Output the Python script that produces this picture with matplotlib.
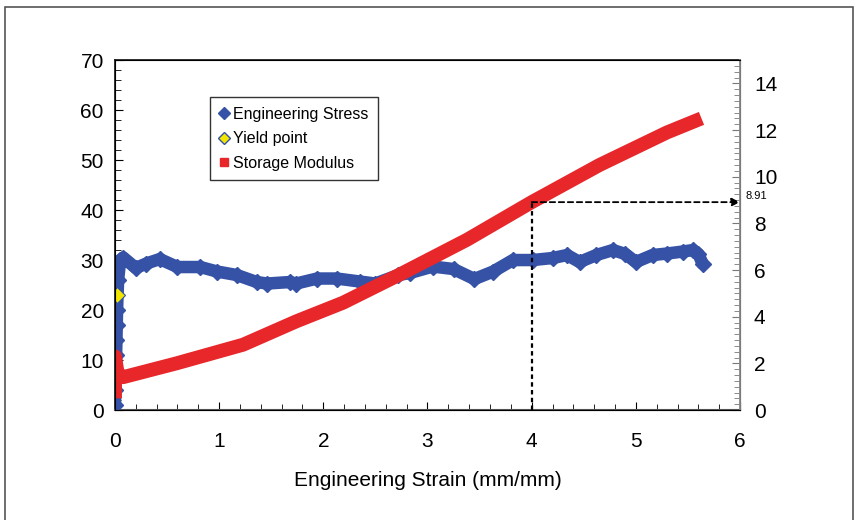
import matplotlib
matplotlib.use("Agg")
import matplotlib.pyplot as plt
from matplotlib.ticker import MultipleLocator
from matplotlib.lines import Line2D
from matplotlib.patches import Rectangle

plt.rcParams['font.family'] = ['Liberation Sans', 'DejaVu Sans']

# datos
strain_stress = [0.0, 0.004, 0.008, 0.011, 0.014, 0.017, 0.02, 0.03, 0.05, 0.08, 0.2,
                 0.3, 0.43, 0.6, 0.82, 0.98, 1.17, 1.36, 1.46, 1.68, 1.74, 1.94,
                 2.13, 2.35, 2.5, 2.72, 2.83, 3.05, 3.25, 3.45, 3.63, 3.82, 4.01,
                 4.2, 4.34, 4.46, 4.62, 4.78, 4.9, 5.0, 5.16, 5.3, 5.45, 5.55, 5.6, 5.64]
stress = [1, 4, 8, 11, 14, 17, 20, 26, 30, 30.5, 28.4,
          29.3, 30.2, 28.6, 28.6, 27.7, 27.0, 25.6, 25.3, 25.6, 25.3, 26.3,
          26.3, 25.7, 25.3, 27.0, 27.4, 28.7, 28.2, 26.2, 27.7, 30.0, 30.0,
          30.4, 31.0, 29.6, 31.0, 32.0, 31.2, 29.6, 31.0, 31.3, 31.7, 32.0, 31.2, 29.3]

yield_x = [0.02]
yield_y = [23]

strain_mod = [0.0, 0.0, 0.03, 0.08, 0.59, 1.23, 1.74, 2.19, 2.73, 3.38, 4.0,
              4.65, 5.3, 5.63]
modulus = [0.5, 2.3, 1.45, 1.41, 2.0, 2.8, 3.8, 4.6, 5.8, 7.3, 8.91,
           10.5, 11.9, 12.5]

marca_x = 4.0
marca_y = 8.91

azul = "#3552A6"
rojo = "#E8272B"
amarillo = "#F2E600"

fig = plt.figure(figsize=(8.58, 5.2), dpi=100)
ax = fig.add_axes([0.134, 0.2115, 0.7285, 0.673])
ax2 = ax.twinx()

# marco exterior
fig.patches.append(Rectangle((0.006, -0.02), 0.988, 1.006, transform=fig.transFigure,
                             fill=False, edgecolor="#555555", lw=1.2))

ax.plot(strain_stress, stress, color=azul, lw=9, marker="D", ms=8,
        solid_capstyle="round", solid_joinstyle="round", zorder=3)
ax.plot(yield_x, yield_y, linestyle="none", marker="D", ms=8,
        color=amarillo, mec=azul, mew=0.8, zorder=5)

ax2.plot(strain_mod, modulus, color=rojo, lw=10, solid_capstyle="butt",
         solid_joinstyle="round", zorder=2)

# lineas de referencia
ax2.plot([marca_x, marca_x], [0, marca_y], color="black", lw=1.6,
         linestyle=(0, (2, 1.5)), zorder=6)
ax2.annotate("", xy=(6.0, marca_y), xytext=(marca_x, marca_y),
             arrowprops=dict(arrowstyle="-|>", color="black", lw=1.3,
                             linestyle=(0, (3, 2)), mutation_scale=12,
                             shrinkA=0, shrinkB=0), zorder=6)
ax2.text(6.0 + 0.05, marca_y + 0.25, "8.91", fontsize=8, va="center", ha="left",
         clip_on=False)

ax.set_xlim(0, 6)
ax.set_ylim(0, 70)
ax2.set_ylim(0, 15)

ax.xaxis.set_major_locator(MultipleLocator(1))
ax.xaxis.set_minor_locator(MultipleLocator(0.2))
ax.yaxis.set_major_locator(MultipleLocator(10))
ax.yaxis.set_minor_locator(MultipleLocator(2))
ax2.yaxis.set_major_locator(MultipleLocator(2))
ax2.yaxis.set_minor_locator(MultipleLocator(0.25))

ax.tick_params(axis="both", which="both", direction="in", labelsize=15)
ax.tick_params(axis="x", which="major", length=6, pad=16, top=False)
ax.tick_params(axis="x", which="minor", length=4, top=False)
ax.tick_params(axis="y", which="major", length=6, pad=8)
ax.tick_params(axis="y", which="minor", length=4)
ax2.tick_params(axis="y", which="both", direction="in", labelsize=15, colors="#777777",
                labelcolor="black")
ax2.tick_params(axis="y", which="major", length=6, pad=10)
ax2.tick_params(axis="y", which="minor", length=4)

for s in ["left", "top"]:
    ax.spines[s].set_color("#222222")
    ax.spines[s].set_linewidth(1.3)
ax.spines["bottom"].set_color("#555555")
ax.spines["bottom"].set_linewidth(1.5)
ax2.spines["right"].set_color("#888888")
ax2.spines["right"].set_linewidth(1.3)

ax.set_xlabel("Engineering Strain (mm/mm)", fontsize=15, labelpad=14)

handles = [
    Line2D([], [], linestyle="none", marker="D", ms=6, color=azul),
    Line2D([], [], linestyle="none", marker="D", ms=6, color=amarillo, mec=azul, mew=1),
    Line2D([], [], linestyle="none", marker="s", ms=6, color=rojo),
]
leg = ax2.legend(handles, ["Engineering Stress", "Yield point", "Storage Modulus"],
                 loc="upper left", bbox_to_anchor=(0.152, 0.894), fontsize=11.5,
                 frameon=True, fancybox=False, handlelength=0.6, handletextpad=0.25,
                 borderpad=0.6, labelspacing=0.6, borderaxespad=0)
leg.get_frame().set_edgecolor("black")
leg.get_frame().set_linewidth(1.0)
leg.set_zorder(10)

fig.savefig("out.png", dpi=100)
